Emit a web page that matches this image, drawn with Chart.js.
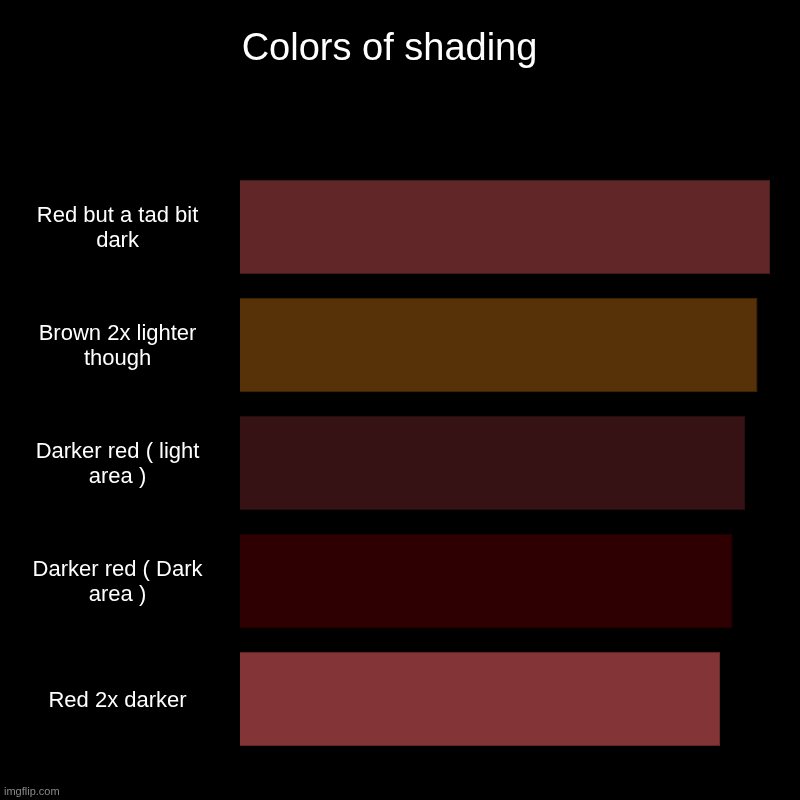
<!DOCTYPE html>
<html>
<head>
<meta charset="utf-8">
<script src="https://cdn.jsdelivr.net/npm/chart.js@4/dist/chart.umd.min.js"></script>
<style>
html,body{margin:0;padding:0;background:#000;}
#wrap{width:800px;height:800px;position:relative;}
</style>
</head>
<body>
<div id="wrap"><canvas id="c" width="800" height="800"></canvas></div>
<script>
const categories = [
  ["Red but a tad bit", "dark"],
  ["Brown 2x lighter", "though"],
  ["Darker red ( light", "area )"],
  ["Darker red ( Dark", "area )"],
  ["Red 2x darker"]
];
const values = [42.4, 41.4, 40.4, 39.4, 38.4];
const barColors = ["#612627", "#573208", "#371214", "#2e0002", "#833436"];
const borderColors = ["#4e1e1f", "#452806", "#2b0e0f", "#240001", "#6a2a2c"];
const titleText = "Colors of shading";

const watermark = {
  id: 'watermark',
  afterDraw(chart) {
    const ctx = chart.ctx;
    ctx.save();
    ctx.font = '11px "Liberation Sans", Arial, sans-serif';
    ctx.fillStyle = '#8a8a8a';
    ctx.textAlign = 'left';
    ctx.textBaseline = 'alphabetic';
    ctx.fillText('imgflip.com', 4, 795);
    ctx.restore();
  }
};
const bg = {
  id: 'bg',
  beforeDraw(chart) {
    const ctx = chart.ctx;
    ctx.save();
    ctx.fillStyle = '#000';
    ctx.fillRect(0, 0, chart.width, chart.height);
    ctx.restore();
  }
};

new Chart(document.getElementById('c'), {
  type: 'bar',
  data: {
    labels: categories,
    datasets: [{
      data: values,
      backgroundColor: barColors,
      borderColor: borderColors,
      borderWidth: 1,
      barPercentage: 0.8,
      categoryPercentage: 1.0
    }]
  },
  options: {
    indexAxis: 'y',
    responsive: false,
    animation: false,
    devicePixelRatio: 1,
    layout: { padding: { left: 9, right: 30, top: 0, bottom: 42 } },
    plugins: {
      legend: { display: false },
      tooltip: { enabled: false },
      title: {
        display: true,
        text: titleText,
        color: '#ffffff',
        font: { family: '"Liberation Sans", Arial, sans-serif', size: 38, weight: 'normal' },
        padding: { top: 27, bottom: 95.4 }
      }
    },
    scales: {
      x: {
        display: false,
        min: 0,
        max: Math.max(...values)
      },
      y: {
        grid: { display: false, drawBorder: false },
        border: { display: false },
        afterFit(scale) {
          scale.width = 231;
          scale.paddingTop = 0;
          scale.paddingBottom = 0;
        },
        ticks: {
          color: '#ffffff',
          crossAlign: 'center',
          padding: 29.5,
          labelOffset: 1.5,
          font: { family: '"Liberation Sans", Arial, sans-serif', size: 22, lineHeight: 1.14 }
        }
      }
    }
  },
  plugins: [bg, watermark]
});
</script>
</body>
</html>
